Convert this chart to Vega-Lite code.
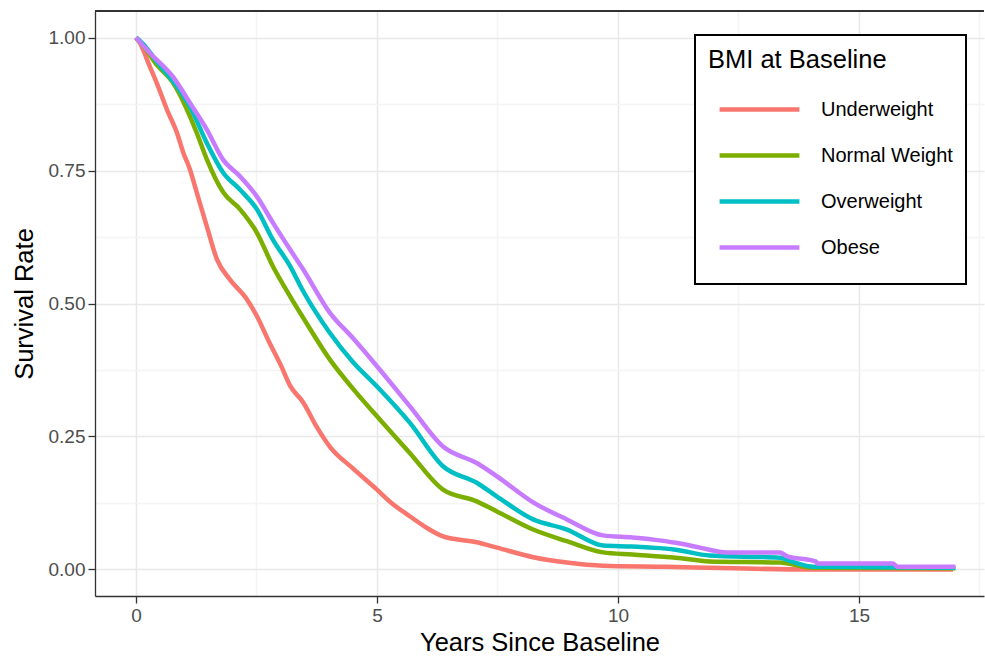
{
  "$schema": "https://vega.github.io/schema/vega-lite/v6.json",
  "width": 889,
  "height": 585,
  "autosize": {"type": "none"},
  "padding": {"left": 95, "top": 11, "right": 1, "bottom": 62},
  "background": "white",
  "config": {
    "font": "Liberation Sans",
    "view": {"stroke": null},
    "axis": {
      "labelFont": "Liberation Sans",
      "titleFont": "Liberation Sans",
      "labelColor": "#4D4D4D",
      "labelFontSize": 19,
      "titleFontSize": 25.5,
      "titleFontWeight": "normal",
      "titleColor": "#000000",
      "domainColor": "#333333",
      "domainWidth": 1.3,
      "tickColor": "#333333",
      "tickWidth": 1.3,
      "gridWidth": 1.5
    },
    "legend": {
      "labelFont": "Liberation Sans",
      "titleFont": "Liberation Sans",
      "strokeWidth": 2
    }
  },
  "data": {
    "values": [
      {"t": 0, "s": 1.0, "g": "Underweight"},
      {"t": 0.08, "s": 0.99, "g": "Underweight"},
      {"t": 0.29, "s": 0.945, "g": "Underweight"},
      {"t": 0.43, "s": 0.915, "g": "Underweight"},
      {"t": 0.64, "s": 0.865, "g": "Underweight"},
      {"t": 0.85, "s": 0.821, "g": "Underweight"},
      {"t": 0.98, "s": 0.784, "g": "Underweight"},
      {"t": 1.12, "s": 0.752, "g": "Underweight"},
      {"t": 1.26, "s": 0.709, "g": "Underweight"},
      {"t": 1.47, "s": 0.645, "g": "Underweight"},
      {"t": 1.68, "s": 0.583, "g": "Underweight"},
      {"t": 1.95, "s": 0.545, "g": "Underweight"},
      {"t": 2.3, "s": 0.508, "g": "Underweight"},
      {"t": 2.51, "s": 0.476, "g": "Underweight"},
      {"t": 2.75, "s": 0.43, "g": "Underweight"},
      {"t": 3.0, "s": 0.385, "g": "Underweight"},
      {"t": 3.2, "s": 0.345, "g": "Underweight"},
      {"t": 3.47, "s": 0.314, "g": "Underweight"},
      {"t": 3.75, "s": 0.268, "g": "Underweight"},
      {"t": 4.02, "s": 0.231, "g": "Underweight"},
      {"t": 4.5, "s": 0.19, "g": "Underweight"},
      {"t": 5.0, "s": 0.15, "g": "Underweight"},
      {"t": 5.3, "s": 0.125, "g": "Underweight"},
      {"t": 5.68, "s": 0.1, "g": "Underweight"},
      {"t": 6.0, "s": 0.08, "g": "Underweight"},
      {"t": 6.37, "s": 0.062, "g": "Underweight"},
      {"t": 7.07, "s": 0.051, "g": "Underweight"},
      {"t": 7.49, "s": 0.041, "g": "Underweight"},
      {"t": 8.24, "s": 0.023, "g": "Underweight"},
      {"t": 8.94, "s": 0.013, "g": "Underweight"},
      {"t": 9.69, "s": 0.007, "g": "Underweight"},
      {"t": 11.0, "s": 0.005, "g": "Underweight"},
      {"t": 12.4, "s": 0.002, "g": "Underweight"},
      {"t": 14.0, "s": 0.0, "g": "Underweight"},
      {"t": 16.95, "s": 0.0, "g": "Underweight"},

      {"t": 0, "s": 1.0, "g": "Normal Weight"},
      {"t": 0.15, "s": 0.985, "g": "Normal Weight"},
      {"t": 0.43, "s": 0.949, "g": "Normal Weight"},
      {"t": 0.77, "s": 0.915, "g": "Normal Weight"},
      {"t": 1.12, "s": 0.852, "g": "Normal Weight"},
      {"t": 1.26, "s": 0.821, "g": "Normal Weight"},
      {"t": 1.47, "s": 0.771, "g": "Normal Weight"},
      {"t": 1.81, "s": 0.709, "g": "Normal Weight"},
      {"t": 2.16, "s": 0.677, "g": "Normal Weight"},
      {"t": 2.51, "s": 0.633, "g": "Normal Weight"},
      {"t": 2.84, "s": 0.57, "g": "Normal Weight"},
      {"t": 3.2, "s": 0.513, "g": "Normal Weight"},
      {"t": 3.47, "s": 0.473, "g": "Normal Weight"},
      {"t": 4.02, "s": 0.395, "g": "Normal Weight"},
      {"t": 4.5, "s": 0.34, "g": "Normal Weight"},
      {"t": 5.0, "s": 0.288, "g": "Normal Weight"},
      {"t": 5.68, "s": 0.219, "g": "Normal Weight"},
      {"t": 6.37, "s": 0.15, "g": "Normal Weight"},
      {"t": 7.07, "s": 0.128, "g": "Normal Weight"},
      {"t": 7.49, "s": 0.109, "g": "Normal Weight"},
      {"t": 8.24, "s": 0.075, "g": "Normal Weight"},
      {"t": 8.94, "s": 0.053, "g": "Normal Weight"},
      {"t": 9.69, "s": 0.032, "g": "Normal Weight"},
      {"t": 10.3, "s": 0.028, "g": "Normal Weight"},
      {"t": 11.2, "s": 0.022, "g": "Normal Weight"},
      {"t": 11.9, "s": 0.015, "g": "Normal Weight"},
      {"t": 13.36, "s": 0.013, "g": "Normal Weight"},
      {"t": 14.05, "s": 0.003, "g": "Normal Weight"},
      {"t": 17.0, "s": 0.002, "g": "Normal Weight"},

      {"t": 0, "s": 1.0, "g": "Overweight"},
      {"t": 0.15, "s": 0.988, "g": "Overweight"},
      {"t": 0.43, "s": 0.955, "g": "Overweight"},
      {"t": 0.85, "s": 0.908, "g": "Overweight"},
      {"t": 1.12, "s": 0.87, "g": "Overweight"},
      {"t": 1.47, "s": 0.802, "g": "Overweight"},
      {"t": 1.81, "s": 0.746, "g": "Overweight"},
      {"t": 2.16, "s": 0.714, "g": "Overweight"},
      {"t": 2.51, "s": 0.677, "g": "Overweight"},
      {"t": 2.84, "s": 0.62, "g": "Overweight"},
      {"t": 3.2, "s": 0.57, "g": "Overweight"},
      {"t": 3.47, "s": 0.523, "g": "Overweight"},
      {"t": 4.02, "s": 0.445, "g": "Overweight"},
      {"t": 4.5, "s": 0.39, "g": "Overweight"},
      {"t": 5.0, "s": 0.344, "g": "Overweight"},
      {"t": 5.68, "s": 0.276, "g": "Overweight"},
      {"t": 6.37, "s": 0.194, "g": "Overweight"},
      {"t": 7.07, "s": 0.163, "g": "Overweight"},
      {"t": 7.49, "s": 0.137, "g": "Overweight"},
      {"t": 8.24, "s": 0.094, "g": "Overweight"},
      {"t": 8.94, "s": 0.075, "g": "Overweight"},
      {"t": 9.69, "s": 0.045, "g": "Overweight"},
      {"t": 10.3, "s": 0.043, "g": "Overweight"},
      {"t": 11.2, "s": 0.037, "g": "Overweight"},
      {"t": 11.9, "s": 0.026, "g": "Overweight"},
      {"t": 13.36, "s": 0.022, "g": "Overweight"},
      {"t": 13.6, "s": 0.015, "g": "Overweight"},
      {"t": 14.05, "s": 0.005, "g": "Overweight"},
      {"t": 17.0, "s": 0.003, "g": "Overweight"},

      {"t": 0, "s": 1.0, "g": "Obese"},
      {"t": 0.29, "s": 0.971, "g": "Obese"},
      {"t": 0.77, "s": 0.926, "g": "Obese"},
      {"t": 1.12, "s": 0.877, "g": "Obese"},
      {"t": 1.47, "s": 0.827, "g": "Obese"},
      {"t": 1.81, "s": 0.77, "g": "Obese"},
      {"t": 2.16, "s": 0.739, "g": "Obese"},
      {"t": 2.51, "s": 0.701, "g": "Obese"},
      {"t": 2.84, "s": 0.652, "g": "Obese"},
      {"t": 3.2, "s": 0.601, "g": "Obese"},
      {"t": 3.47, "s": 0.564, "g": "Obese"},
      {"t": 4.02, "s": 0.483, "g": "Obese"},
      {"t": 4.5, "s": 0.435, "g": "Obese"},
      {"t": 5.0, "s": 0.382, "g": "Obese"},
      {"t": 5.68, "s": 0.307, "g": "Obese"},
      {"t": 6.37, "s": 0.231, "g": "Obese"},
      {"t": 7.07, "s": 0.2, "g": "Obese"},
      {"t": 7.49, "s": 0.175, "g": "Obese"},
      {"t": 8.24, "s": 0.126, "g": "Obese"},
      {"t": 8.94, "s": 0.094, "g": "Obese"},
      {"t": 9.69, "s": 0.064, "g": "Obese"},
      {"t": 10.3, "s": 0.06, "g": "Obese"},
      {"t": 10.73, "s": 0.056, "g": "Obese"},
      {"t": 11.2, "s": 0.05, "g": "Obese"},
      {"t": 11.7, "s": 0.041, "g": "Obese"},
      {"t": 12.26, "s": 0.032, "g": "Obese"},
      {"t": 13.36, "s": 0.032, "g": "Obese"},
      {"t": 13.5, "s": 0.025, "g": "Obese"},
      {"t": 14.1, "s": 0.015, "g": "Obese"},
      {"t": 14.15, "s": 0.011, "g": "Obese"},
      {"t": 15.7, "s": 0.011, "g": "Obese"},
      {"t": 15.8, "s": 0.005, "g": "Obese"},
      {"t": 17.0, "s": 0.005, "g": "Obese"}
    ]
  },
  "layer": [
    {
      "mark": {"type": "line", "strokeWidth": 4.5, "interpolate": "monotone"},
      "encoding": {
        "x": {
          "field": "t",
          "type": "quantitative",
          "title": "Years Since Baseline",
          "scale": {"domain": [-0.85, 17.594], "nice": false, "zero": false},
          "axis": {
            "grid": true,
            "values": [0, 2.5, 5, 7.5, 10, 12.5, 15, 17.5],
            "format": "d",
            "labelExpr": "datum.value % 5 == 0 ? datum.label : ''",
            "gridColor": {"condition": {"test": "datum.value % 5 == 0", "value": "#E8E8E8"}, "value": "#F4F4F4"},
            "tickOpacity": {"condition": {"test": "datum.value % 5 == 0", "value": 1}, "value": 0},
            "tickSize": 7,
            "labelPadding": 3,
            "titlePadding": 5
          }
        },
        "y": {
          "field": "s",
          "type": "quantitative",
          "title": "Survival Rate",
          "scale": {"domain": [-0.05, 1.05], "nice": false, "zero": false},
          "axis": {
            "grid": true,
            "values": [0, 0.125, 0.25, 0.375, 0.5, 0.625, 0.75, 0.875, 1.0],
            "format": ".2f",
            "labelExpr": "(datum.value * 4) % 1 == 0 ? datum.label : ''",
            "gridColor": {"condition": {"test": "(datum.value * 4) % 1 == 0", "value": "#E8E8E8"}, "value": "#F4F4F4"},
            "tickOpacity": {"condition": {"test": "(datum.value * 4) % 1 == 0", "value": 1}, "value": 0},
            "tickSize": 7,
            "labelPadding": 3,
            "titlePadding": 11
          }
        },
        "color": {
          "field": "g",
          "type": "nominal",
          "scale": {
            "domain": ["Underweight", "Normal Weight", "Overweight", "Obese"],
            "range": ["#F8766D", "#7CAE00", "#00BFC4", "#C77CFF"]
          },
          "legend": {
            "title": "BMI at Baseline",
            "orient": "none",
            "legendX": 600,
            "legendY": 24,
            "padding": 13,
            "fillColor": "white",
            "strokeColor": "#000000",
            "titleFontSize": 25.5,
            "titleFontWeight": "normal",
            "titleColor": "#000000",
            "titlePadding": 13,
            "labelFontSize": 20,
            "labelColor": "#000000",
            "symbolType": "M-1.9,0H1.9",
            "symbolSize": 1764,
            "symbolStrokeWidth": 4.5,
            "symbolOffset": 28,
            "labelOffset": 38,
            "clipHeight": 46,
            "rowPadding": 0
          }
        }
      }
    },
    {
      "mark": {"type": "rule", "color": "#333333", "strokeWidth": 1.3},
      "encoding": {"y": {"datum": 1.05, "type": "quantitative", "axis": {"grid": true}}}
    }
  ]
}
